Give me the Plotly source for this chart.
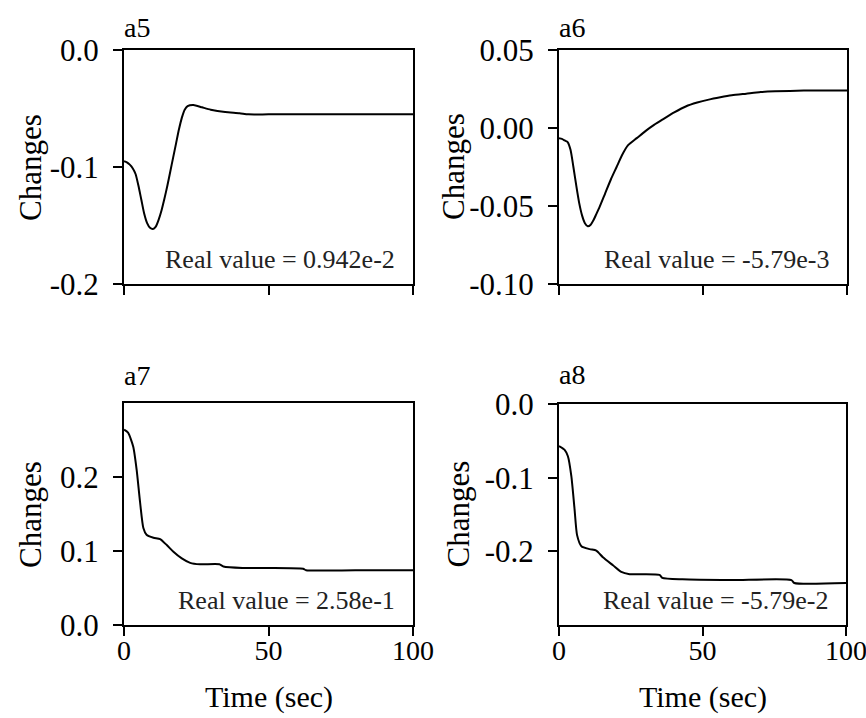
import plotly.graph_objects as go

W, H = 866, 718

# ---- data: parameter change traces over time ----
time_a5 = [0, 1, 2, 3, 4, 5, 6, 7, 8, 9, 10, 11, 12, 13, 14, 15, 16, 17, 18, 19, 20, 21,
           22, 24, 27, 30, 35, 40, 43, 50, 70, 100]
changes_a5 = [-0.095, -0.096, -0.098, -0.101, -0.106, -0.116, -0.128, -0.140, -0.148, -0.152,
              -0.153, -0.151, -0.145, -0.137, -0.127, -0.116, -0.104, -0.092, -0.080, -0.068,
              -0.058, -0.051, -0.048, -0.047, -0.049, -0.051, -0.053, -0.054, -0.055, -0.055,
              -0.055, -0.055]

time_a6 = [0, 1, 2, 3, 4, 5, 6, 7, 8, 9, 10, 11, 12, 13, 14, 16, 18, 20, 22, 24, 27, 30,
           33, 36, 40, 44, 48, 52, 56, 60, 65, 70, 75, 85, 100]
changes_a6 = [-0.0066, -0.007, -0.008, -0.009, -0.014, -0.025, -0.037, -0.048, -0.056, -0.061,
              -0.063, -0.062, -0.059, -0.055, -0.051, -0.042, -0.033, -0.025, -0.017, -0.011,
              -0.0065, -0.002, 0.002, 0.0055, 0.010, 0.0138, 0.0163, 0.0182, 0.0197, 0.021,
              0.022, 0.023, 0.0235, 0.024, 0.024]

time_a7 = [0, 1.4, 3.2, 4.4, 5.5, 6.7, 7.8, 10.2, 12.5, 14.8, 17.1, 20, 22.9, 26.3, 33,
           34.4, 41, 50, 62, 63, 80, 100]
changes_a7 = [0.264, 0.260, 0.241, 0.209, 0.168, 0.131, 0.122, 0.118, 0.116, 0.108, 0.099,
              0.090, 0.084, 0.082, 0.082, 0.079, 0.077, 0.077, 0.076, 0.074, 0.074, 0.074]

time_a8 = [0, 1.9, 3.1, 4.3, 5.4, 6.3, 7.8, 10.7, 13, 15.3, 18.8, 21.7, 24.6, 35, 36,
           43, 60, 81, 82, 100]
changes_a8 = [-0.057, -0.062, -0.071, -0.098, -0.142, -0.178, -0.193, -0.197, -0.199, -0.208,
              -0.219, -0.228, -0.231, -0.232, -0.236, -0.238, -0.239, -0.239, -0.243, -0.243]

panel_names = ["a5", "a6", "a7", "a8"]
real_value_labels = ["Real value = 0.942e-2", "Real value = -5.79e-3",
                     "Real value = 2.58e-1", "Real value = -5.79e-2"]

x_tick_vals = [0, 50, 100]
x_tick_text = ["0", "50", "100"]

y_tick_vals_a5 = [0.0, -0.1, -0.2]
y_tick_text_a5 = ["0.0", "-0.1", "-0.2"]
y_tick_vals_a6 = [0.05, 0.0, -0.05, -0.10]
y_tick_text_a6 = ["0.05", "0.00", "-0.05", "-0.10"]
y_tick_vals_a7 = [0.0, 0.1, 0.2]
y_tick_text_a7 = ["0.0", "0.1", "0.2"]
y_tick_vals_a8 = [0.0, -0.1, -0.2]
y_tick_text_a8 = ["0.0", "-0.1", "-0.2"]

x_title = "Time (sec)"
y_title = "Changes"

# ---- layout helpers (pixel -> paper) ----
def px(x):
    return x / W


def py(y):
    return 1 - y / H


FONT = "Liberation Serif, Times New Roman, serif"

# plot boxes in pixels: left, top, right, bottom
boxes = [(124, 50, 413, 284), (559, 50, 847, 284),
         (124, 403, 413, 625), (559, 404, 846, 625)]
y_ranges = [[-0.2, 0.0], [-0.10, 0.05], [0.0, 0.3], [-0.3, 0.0]]
series = [(time_a5, changes_a5), (time_a6, changes_a6),
          (time_a7, changes_a7), (time_a8, changes_a8)]
y_ticks = [(y_tick_vals_a5, y_tick_text_a5), (y_tick_vals_a6, y_tick_text_a6),
           (y_tick_vals_a7, y_tick_text_a7), (y_tick_vals_a8, y_tick_text_a8)]

fig = go.Figure()
layout = dict(
    width=W, height=H,
    margin=dict(l=0, r=0, t=0, b=0, autoexpand=False),
    paper_bgcolor="white", plot_bgcolor="white",
    showlegend=False,
    font=dict(family=FONT, size=30, color="black"),
)
annotations = []

axis_common = dict(
    showline=True, linewidth=2, linecolor="black", mirror=True,
    ticks="outside", ticklen=9, tickwidth=2, tickcolor="black",
    showgrid=False, zeroline=False, automargin=False,
    ticklabeloverflow="allow",
    tickfont=dict(family=FONT, size=31, color="black"),
)

title_y = [28, 28, 375, 374]
ylabel_x = [30, 453, 30, 458]

for i, ((l, t, r, b), (xs, ys)) in enumerate(zip(boxes, series)):
    n = "" if i == 0 else str(i + 1)
    fig.add_trace(go.Scatter(
        x=xs, y=ys, mode="lines",
        line=dict(color="black", width=2, shape="spline", smoothing=0.6),
        xaxis="x" + n, yaxis="y" + n, hoverinfo="skip",
    ))
    bottom_row = i >= 2
    layout["xaxis" + n] = dict(
        axis_common, domain=[px(l), px(r)], range=[0, 100], anchor="y" + n,
        tickvals=x_tick_vals, ticktext=x_tick_text, showticklabels=bottom_row,
        ticklabelstandoff=-10,
        tickfont=dict(family=FONT, size=28, color="black"),
    )
    layout["yaxis" + n] = dict(
        axis_common, domain=[py(b), py(t)], range=y_ranges[i], anchor="x" + n,
        tickvals=y_ticks[i][0], ticktext=y_ticks[i][1], ticklabelstandoff=8,
    )
    # panel name
    annotations.append(dict(
        text=panel_names[i], xref="paper", yref="paper", x=px(l - 2), y=py(title_y[i]),
        xanchor="left", yanchor="middle", showarrow=False,
        font=dict(family=FONT, size=28, color="black"),
    ))
    # y-axis title
    annotations.append(dict(
        text=y_title, xref="paper", yref="paper", x=px(ylabel_x[i]), y=py((t + b) / 2),
        xanchor="center", yanchor="middle", textangle=-90, showarrow=False,
        font=dict(family=FONT, size=31, color="black"),
    ))
    # real value note inside the plot, bottom right
    annotations.append(dict(
        text=real_value_labels[i], xref="paper", yref="paper", x=px(r - 16), y=py(b - 25),
        xanchor="right", yanchor="middle", showarrow=False,
        font=dict(family=FONT, size=26, color="#222"),
    ))
    if bottom_row:
        annotations.append(dict(
            text=x_title, xref="paper", yref="paper", x=px((l + r) / 2), y=py(697),
            xanchor="center", yanchor="middle", showarrow=False,
            font=dict(family=FONT, size=30, color="black"),
        ))

layout["annotations"] = annotations
fig.update_layout(**layout)
fig.write_html("out.html")
